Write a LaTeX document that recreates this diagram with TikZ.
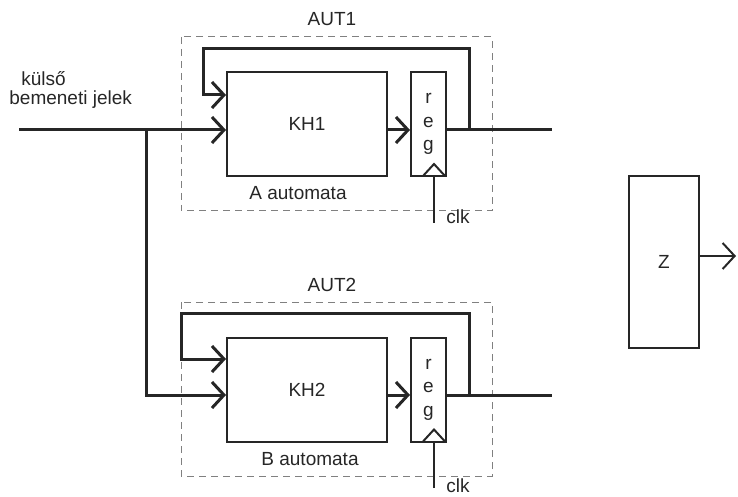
\documentclass[tikz,border=0pt]{standalone}
\usepackage{fontspec}
\setmainfont{Liberation Sans}
\usetikzlibrary{arrows.meta,positioning}
\tikzset{
  box/.style    = {draw, line width=1pt, minimum width=80pt, minimum height=52pt,
                   inner sep=0pt},
  regbox/.style = {draw, line width=1pt, minimum width=17.5pt, minimum height=52pt,
                   inner sep=0pt, align=center, font=\fontsize{9.5}{11.75}\selectfont},
  wire/.style   = {line width=1.5pt},
  sig/.style    = {-{Straight Barb[length=6pt,width=13pt]}, line width=1.5pt},
  tick/.style   = {line width=1pt},
  frame/.style  = {dash pattern=on 3.5pt off 2.5pt, gray, line width=0.5pt},
}

\begin{document}
\begin{tikzpicture}[x=0.5pt,y=-0.5pt,color=black!85,font=\fontsize{9.5}{11.5}\selectfont]
  \useasboundingbox (0,0) rectangle (738,497);
  % automata frames
  \draw[frame] (181,37) rectangle (492,211);
  \draw[frame] (181,302) rectangle (492,476);
  \node (aut1) at (332,19) {AUT1};
  \node (aut2) at (332,285) {AUT2};
  % blocks
  \node[box] (kh1) at (307,124) {KH1};
  \node[regbox] (reg1) at (428.5,124) {r\\e\\g};
  \node[box] (kh2) at (307,389.5) {KH2};
  \node[regbox] (reg2) at (428.5,389.5) {r\\e\\g};
  \node[box, minimum width=35pt, minimum height=86pt] (z) at (664,262) {Z};
  % labels
  \node[anchor=west, inner sep=0pt] (kulso) at (21,79) {külső};
  \node[anchor=west, inner sep=0pt] (bemenet) at (9,100) {bemeneti jelek};
  \node (autA) at (298,193) {A automata};
  \node (autB) at (310,459) {B automata};
  \node (clkA) at (458,217) {clk};
  \node[inner sep=0pt] (clkB) at (458,486) {clk};
  % wire ends
  \coordinate (in) at (19,130);
  \coordinate (br) at (146,130);
  \coordinate (j1) at (469,130);
  \coordinate (j2) at (469,395);
  \coordinate (out1) at (552,130);
  \coordinate (out2) at (552,395);
  \coordinate (clk1) at (434,223);
  \coordinate (clk2) at (434,488);
  \coordinate (zout) at (736,256);
  % inputs
  \draw[sig] (in) -- (in -| kh1.west);
  \draw[sig] (br) |- (kh2.west |- j2);
  % A automata
  \draw[sig] (kh1.east |- j1) -- (reg1.west |- j1);
  \draw[wire] (reg1.east |- j1) -- (out1);
  \draw[sig] (j1) |- (203,49) |- (kh1.west |- 0,95);
  \draw[tick] (clk1) -- (clk1 |- reg1.south);
  \draw[tick] (423,176) -- (434,164) -- (445,176);
  % B automata
  \draw[sig] (kh2.east |- j2) -- (reg2.west |- j2);
  \draw[wire] (reg2.east |- j2) -- (out2);
  \draw[sig] (j2) |- (181,313) |- (kh2.west |- 0,359);
  \draw[tick] (clk2) -- (clk2 |- reg2.south);
  \draw[tick] (423,441.5) -- (434,429.5) -- (445,441.5);
  % Z
  \draw[sig, line width=1pt] (z.east |- zout) -- (zout);
\end{tikzpicture}
\end{document}
